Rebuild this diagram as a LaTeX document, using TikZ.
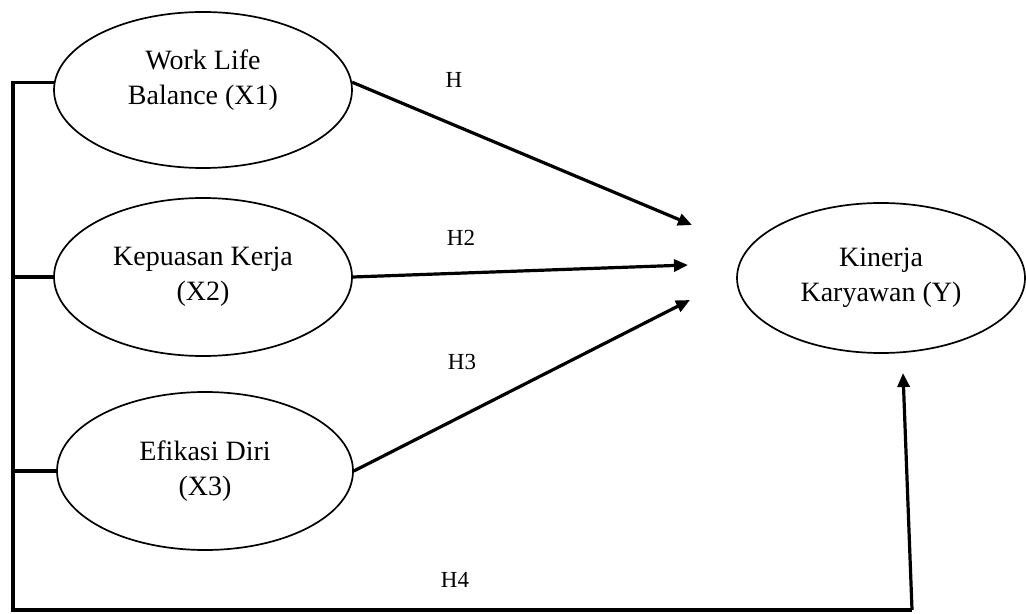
\documentclass[tikz,border=0pt]{standalone}
\usepackage{fontspec}
\setmainfont{Liberation Serif}
\usetikzlibrary{shapes.geometric,arrows.meta}

\begin{document}
\begin{tikzpicture}[x=0.5pt, y=-0.5pt,
        var/.style={ellipse, draw, line width=0.85pt, inner sep=0pt, align=center,
                    font=\fontsize{14}{17.5}\selectfont},
        hyp/.style={inner sep=0pt, font=\fontsize{11.5}{13}\selectfont},
        hyparrow/.style={line width=1.6pt, -{Triangle[length=7pt,width=6pt]}},
        bus/.style={line width=1.6pt}]
        \useasboundingbox (0,0) rectangle (1026,614);
        % Variables
        \node[var, minimum width=149pt, minimum height=78pt] (X1) at (203,90) {Work Life\\Balance (X1)\\[-5pt]};
        \node[var, minimum width=149pt, minimum height=79pt] (X2) at (203,277) {Kepuasan Kerja\\(X2)};
        \node[var, minimum width=148pt, minimum height=79pt] (X3) at (205,471) {Efikasi Diri\\(X3)};
        \node[var, minimum width=144pt, minimum height=75pt] (Y) at (881,278) {Kinerja\\Karyawan (Y)};
        % Arrow ends
        \coordinate (t1) at (692,225);
        \coordinate (t2) at (688,265);
        \coordinate (t3) at (690,300);
        \coordinate (t4) at (903,373);
        \coordinate (bus) at (13,610);
        \coordinate (corner) at (912,610);
        % Hypotheses
        \draw[hyparrow] (X1.3) -- (t1);
        \draw[hyparrow] (X2.east) -- (t2);
        \draw[hyparrow] (X3.east) -- (t3);
        \draw[bus] (X1.177) -| (bus) -- (corner);
        \draw[bus] (X2.west) -- (X2.west -| bus);
        \draw[bus] (X3.west) -- (X3.west -| bus);
        \draw[hyparrow] (corner) -- (t4);
        % Labels
        \node[hyp] (h1) at (454,80) {H};
        \node[hyp] (h2) at (461,238) {H2};
        \node[hyp] (h3) at (462,362) {H3};
        \node[hyp] (h4) at (455,580) {H4};
    \end{tikzpicture}
\end{document}
